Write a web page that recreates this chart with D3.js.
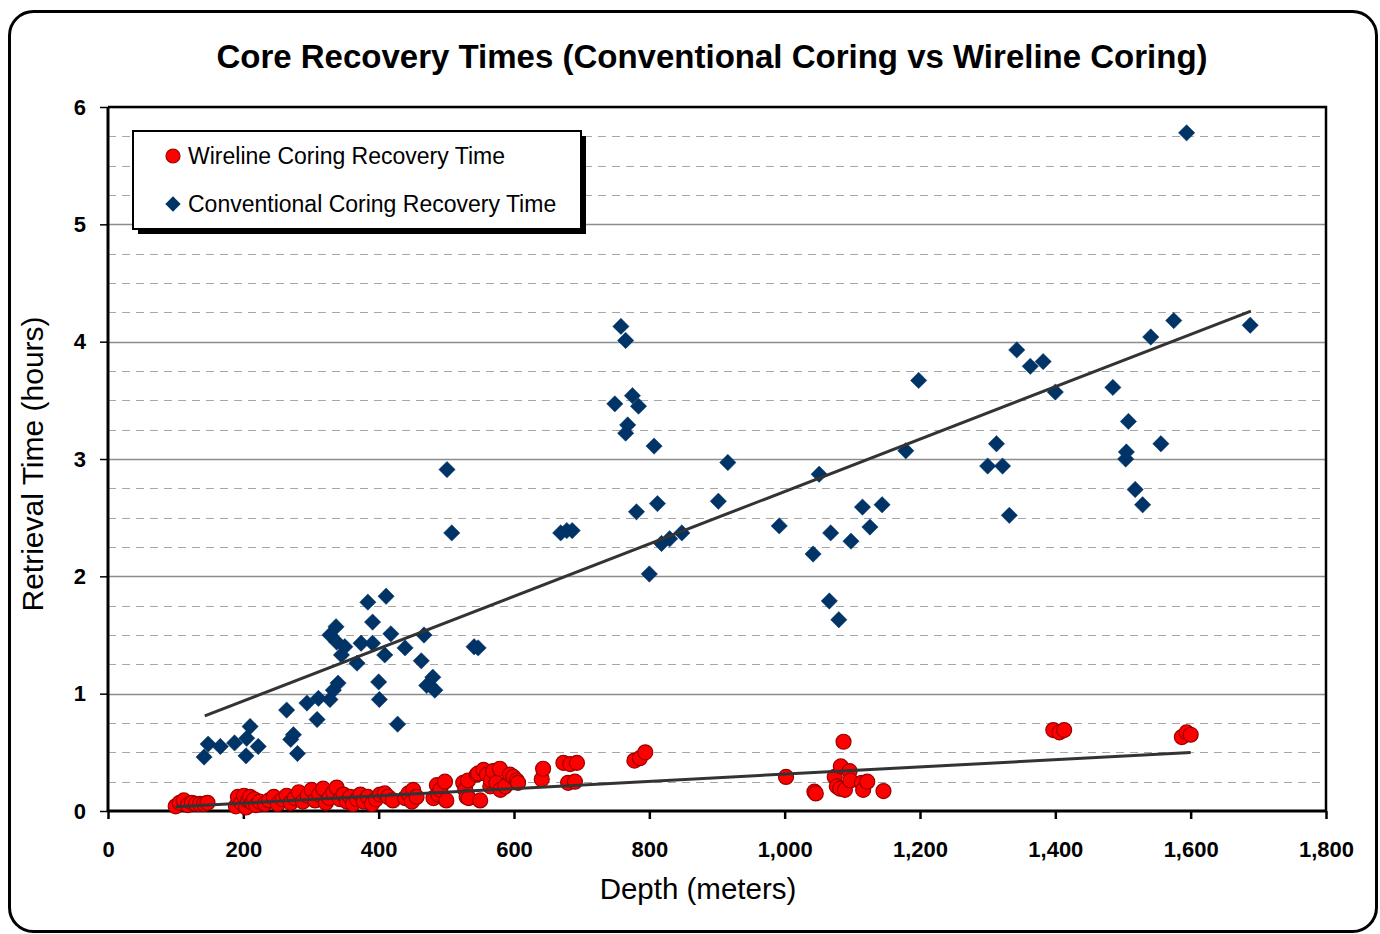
<!DOCTYPE html>
<html><head><meta charset="utf-8">
<script src="https://cdn.jsdelivr.net/npm/d3@7/dist/d3.min.js"></script>
<style>body{margin:0;background:#fff}svg{display:block}text{font-family:"Liberation Sans",Arial,sans-serif}</style>
</head><body>
<svg id="c" width="1380" height="934"></svg>
<script>
const chartTitle = "Core Recovery Times (Conventional Coring vs Wireline Coring)";
const xTitle = "Depth (meters)";
const yTitle = "Retrieval Time (hours)";
const seriesNames = ["Wireline Coring Recovery Time", "Conventional Coring Recovery Time"];
const xTicks = [0, 200, 400, 600, 800, 1000, 1200, 1400, 1600, 1800];
const yTicks = [0, 1, 2, 3, 4, 5, 6];
// [depth (m), hours]
const wireline = [
[100,0.04],[106,0.07],[112,0.09],[118,0.05],[124,0.07],[130,0.06],[136,0.06],[142,0.06],[147,0.07],
[189,0.04],[192,0.12],[197,0.07],[201,0.13],[204,0.03],[207,0.09],[210,0.12],[213,0.07],[216,0.10],[219,0.05],[224,0.08],
[232,0.06],[238,0.09],[245,0.12],[251,0.06],[258,0.10],[264,0.13],[270,0.07],[276,0.11],[282,0.16],[288,0.08],[295,0.13],[301,0.18],[306,0.09],[312,0.14],[318,0.19],[322,0.07],[327,0.11],[333,0.16],[338,0.20],[343,0.10],[348,0.14],[353,0.08],[358,0.12],[362,0.06],[368,0.10],[373,0.14],[378,0.08],[384,0.12],[390,0.06],[396,0.10],[402,0.14],[409,0.15],[414,0.12],
[421,0.09],[439,0.11],[444,0.15],[449,0.08],[451,0.18],[456,0.12],[481,0.11],[486,0.22],[488,0.14],[491,0.18],[498,0.25],[500,0.09],[525,0.24],[528,0.18],[530,0.12],[532,0.26],[533,0.11],[545,0.31],[547,0.32],[550,0.09],[555,0.35],[560,0.31],[565,0.21],[566,0.26],[569,0.34],[574,0.24],[579,0.36],[580,0.18],[587,0.21],[594,0.31],[599,0.29],[604,0.26],[606,0.24],
[641,0.27],[643,0.36],[673,0.41],[680,0.24],[683,0.40],[690,0.25],[693,0.41],[778,0.43],[786,0.45],[794,0.50],
[1002,0.29],[1044,0.165],[1046,0.15],[1074,0.29],[1077,0.21],[1082,0.19],[1083,0.38],[1087,0.59],[1089,0.18],[1096,0.34],[1097,0.26],[1114,0.24],[1116,0.18],[1122,0.25],[1146,0.17],
[1397,0.69],[1406,0.67],[1413,0.69],[1587,0.63],[1594,0.67],[1600,0.65]
];
const conventional = [
[142,0.46],[148,0.57],[166,0.55],[187,0.58],[204,0.47],[205,0.62],[210,0.72],[222,0.55],[264,0.86],[270,0.61],[274,0.65],[280,0.49],[294,0.92],[309,0.78],[311,0.96],[328,0.95],[333,1.03],[340,1.09],[328,1.50],[337,1.57],[338,1.44],[345,1.33],[350,1.40],[368,1.26],[374,1.43],[384,1.78],[391,1.61],[391,1.43],[400,1.10],[401,0.95],[409,1.33],[411,1.83],[418,1.51],[428,0.74],[439,1.39],[463,1.28],[467,1.50],[471,1.07],[480,1.14],[483,1.03],[501,2.91],[508,2.37],[541,1.40],[547,1.39],
[669,2.37],[678,2.39],[686,2.39],[749,3.47],[758,4.13],[765,4.01],[765,3.22],[768,3.29],[775,3.54],[781,2.55],[784,3.45],[800,2.02],[807,3.11],[812,2.62],[818,2.28],[830,2.32],[848,2.37],[902,2.64],[916,2.97],[992,2.43],[1042,2.19],[1051,2.87],[1066,1.79],[1068,2.37],[1080,1.63],[1098,2.30],[1115,2.59],[1126,2.42],[1144,2.61],[1179,3.07],[1198,3.67],[1300,2.94],[1313,3.13],[1322,2.94],[1332,2.52],[1343,3.93],[1363,3.79],[1382,3.83],[1400,3.57],[1485,3.61],[1504,3.00],[1505,3.06],[1508,3.32],[1518,2.74],[1529,2.61],[1541,4.04],[1556,3.13],[1575,4.18],[1594,5.78],[1688,4.14]
];
// linear trend lines: [startDepth, endDepth, slope, intercept]
const wirelineTrend = [100, 1600, 0.000308, 0.006];
const conventionalTrend = [143, 1689, 0.002232, 0.491];

const svg = d3.select("#c");
const M = {l:108, t:107, r:1326, b:811};
const x = d3.scaleLinear().domain([0,1800]).range([M.l, M.r]);
const y = d3.scaleLinear().domain([0,6]).range([M.b, M.t]);

// outer frame
svg.append("rect").attr("x",9.5).attr("y",11.5).attr("width",1367).attr("height",920)
  .attr("rx",24).attr("fill","#fff").attr("stroke","#000").attr("stroke-width",3);

// title
svg.append("text").attr("x",712).attr("y",68).attr("text-anchor","middle")
  .attr("font-weight","bold").attr("font-size",33).text(chartTitle);

// minor dashed grid
const minor = d3.range(0, 6.001, 0.25).filter(v => Math.abs(v - Math.round(v)) > 1e-6);
svg.append("g").selectAll("line").data(minor).join("line")
  .attr("x1",M.l).attr("x2",M.r).attr("y1",d=>Math.round(y(d))+0.5).attr("y2",d=>Math.round(y(d))+0.5)
  .attr("stroke","#a6a6a6").attr("stroke-width",1.2).attr("stroke-dasharray","8,6");
// major grid
svg.append("g").selectAll("line").data(yTicks.slice(1)).join("line")
  .attr("x1",M.l).attr("x2",M.r).attr("y1",d=>Math.round(y(d))+0.5).attr("y2",d=>Math.round(y(d))+0.5)
  .attr("stroke","#8c8c8c").attr("stroke-width",1.5);

// plot border top/right
svg.append("path").attr("d",`M${M.l},${M.t}H${M.r}V${M.b}`).attr("fill","none").attr("stroke","#000").attr("stroke-width",2.5);

// axes
const xAxis = d3.axisBottom(x).tickValues(xTicks).tickSize(8).tickPadding(22).tickFormat(d3.format(","));
const gx = svg.append("g").attr("transform",`translate(0,${M.b})`).call(xAxis);
gx.select(".domain").attr("stroke","#000").attr("stroke-width",3).attr("d",`M${M.l},0H${M.r}`);
gx.selectAll(".tick line").attr("stroke","#000").attr("stroke-width",2.5);
gx.selectAll("text").attr("font-size",22).attr("font-weight","bold").attr("fill","#000")
  .attr("font-family","Liberation Sans, Arial, sans-serif");

const yAxis = d3.axisLeft(y).tickValues(yTicks).tickSize(8).tickPadding(14).tickFormat(d3.format("d"));
const gy = svg.append("g").attr("transform",`translate(${M.l},0)`).call(yAxis);
gy.select(".domain").attr("stroke","#000").attr("stroke-width",3).attr("d",`M0,${M.t}V${M.b}`);
gy.selectAll(".tick line").attr("stroke","#000").attr("stroke-width",1.5);
gy.selectAll("text").attr("font-size",22).attr("font-weight","bold").attr("fill","#000")
  .attr("font-family","Liberation Sans, Arial, sans-serif");

// axis titles
svg.append("text").attr("x",698).attr("y",899).attr("text-anchor","middle").attr("font-size",29.5).text(xTitle);
svg.append("text").attr("transform","translate(43,464) rotate(-90)").attr("text-anchor","middle").attr("font-size",30).text(yTitle);

// points
const diamond = d3.symbol().type(d3.symbolDiamond2).size(170);
svg.append("g").selectAll("path").data(conventional).join("path")
  .attr("transform",d=>`translate(${x(d[0])},${y(d[1])})`).attr("d",diamond)
  .attr("fill","#003366").attr("stroke","#003366").attr("stroke-width",0.5);
svg.append("g").selectAll("circle").data(wireline).join("circle")
  .attr("cx",d=>x(d[0])).attr("cy",d=>y(d[1])).attr("r",7.5)
  .attr("fill","#ff0000").attr("stroke","#9b0000").attr("stroke-width",1.2);

// trend lines
const line = d3.line().x(d=>x(d[0])).y(d=>y(d[1]));
[wirelineTrend, conventionalTrend].forEach(t => {
  const pts = [[t[0], t[2]*t[0]+t[3]], [t[1], t[2]*t[1]+t[3]]];
  svg.append("path").attr("d", line(pts)).attr("stroke","#333").attr("stroke-width",3).attr("fill","none");
});

// legend
const lg = svg.append("g");
lg.append("rect").attr("x",138).attr("y",136).attr("width",448).attr("height",98).attr("fill","#000");
lg.append("rect").attr("x",133).attr("y",131).attr("width",448).attr("height",98).attr("fill","#fff").attr("stroke","#000").attr("stroke-width",2);
lg.append("circle").attr("cx",173).attr("cy",156).attr("r",7).attr("fill","#ff0000").attr("stroke","#9b0000").attr("stroke-width",1.2);
lg.append("path").attr("transform","translate(173,204)").attr("d",d3.symbol().type(d3.symbolDiamond2).size(150)).attr("fill","#003366");
lg.append("text").attr("x",188).attr("y",164).attr("font-size",23).text(seriesNames[0]);
lg.append("text").attr("x",188).attr("y",212).attr("font-size",23).text(seriesNames[1]);
</script>
</body></html>
